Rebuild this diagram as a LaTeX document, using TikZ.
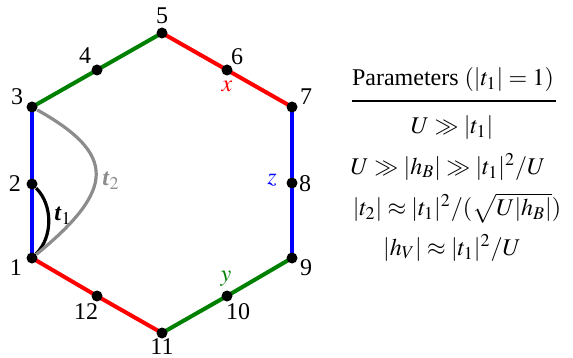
\documentclass[tikz,border=0pt]{standalone}
\usepackage{amsmath}
\IfFileExists{mathptmx.sty}{\usepackage{mathptmx}}{}
\usepackage{fontspec}
\setmainfont{Liberation Serif}
\definecolor{cred}{RGB}{255,0,0}
\definecolor{cgreen}{RGB}{0,128,0}
\definecolor{cblue}{RGB}{0,0,255}
\definecolor{cgray}{RGB}{140,140,140}
\begin{document}
\begin{tikzpicture}[x=0.5pt,y=-0.5pt,
  dot/.style={circle,fill=black,inner sep=0pt,minimum size=5.5pt},
  edgeline/.style={line width=2pt},
  lbl/.style={inner sep=0pt,font=\fontsize{12}{14}\selectfont},
  hop/.style={line width=1.6pt}]
\useasboundingbox (0,0) rectangle (573,358);
% sites
\coordinate (p1) at (32,258);
\coordinate (p2) at (32,184);
\coordinate (p3) at (32,107);
\coordinate (p4) at (97,70);
\coordinate (p5) at (162,33);
\coordinate (p6) at (227,70);
\coordinate (p7) at (292,107);
\coordinate (p8) at (292,183);
\coordinate (p9) at (292,258);
\coordinate (p10) at (227,296);
\coordinate (p11) at (162,333);
\coordinate (p12) at (97,296);
% bonds
\draw[edgeline,cblue] (p1) -- (p2) -- (p3);
\draw[edgeline,cgreen] (p3) -- (p4) -- (p5);
\draw[edgeline,cred] (p5) -- (p6) -- (p7);
\draw[edgeline,cblue] (p7) -- (p8) -- (p9);
\draw[edgeline,cgreen] (p9) -- (p10) -- (p11);
\draw[edgeline,cred] (p11) -- (p12) -- (p1);
% dots
\foreach \i in {1,...,12} {\node[dot] (n\i) at (p\i) {};}
% hoppings
\draw[hop,black] (n2) .. controls (53,205) and (53,237) .. (n1);
\draw[hop,cgray] (n3) .. controls (116,154) and (116,189) .. (n1);
% labels
\node[lbl] (l1) at (16,268) {1};
\node[lbl] (l2) at (15,184) {2};
\node[lbl] (l3) at (17,97) {3};
\node[lbl] (l4) at (85,56) {4};
\node[lbl] (l5) at (162,16) {5};
\node[lbl] (l6) at (237,57) {6};
\node[lbl] (l7) at (306,97) {7};
\node[lbl] (l8) at (305,184) {8};
\node[lbl] (l9) at (306,268) {9};
\node[lbl] (l10) at (238,312) {10};
\node[lbl] (l11) at (162,347) {11};
\node[lbl] (l12) at (86,312) {12};
\node[lbl,text=cred] (lx) at (227,86) {$x$};
\node[lbl,text=cgreen] (ly) at (226,279) {$y$};
\node[lbl,text=cblue] (lz) at (272,180) {$z$};
\node[lbl] (lt1) at (63,216) {$\textbf{\textit{t}}_1$};
\node[lbl,text=cgray] (lt2) at (111,181) {$\textbf{\textit{t}}_2$};
% parameters
\node[lbl] (ptitle) at (453,80) {Parameters $(|t_1| = 1)$};
\coordinate (rl) at (352,101);
\coordinate (rr) at (556,101);
\draw[line width=0.7pt] (rl) -- (rr);
\node[lbl] (q1) at (452,128) {$U \gg |t_1|$};
\node[lbl] (q2) at (448,167) {$U \gg |h_B| \gg |t_1|^2/U$};
\node[lbl] (q3) at (457,208) {$|t_2| \approx |t_1|^2/(\sqrt{U|h_B|})$};
\node[lbl] (q4) at (452,248) {$|h_V| \approx |t_1|^2/U$};
\end{tikzpicture}
\end{document}
